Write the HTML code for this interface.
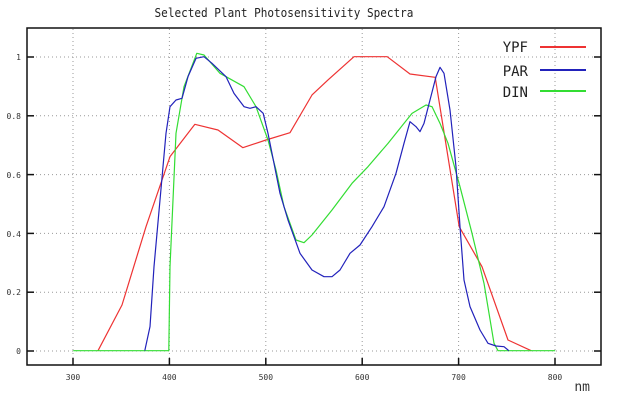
<!DOCTYPE html>
<html><head><style>
body{margin:0;background:#fff;}
svg{display:block;font-family:"DejaVu Sans Mono","Liberation Mono",monospace;}
</style></head><body>
<svg width="620" height="414" viewBox="0 0 620 414" xmlns="http://www.w3.org/2000/svg">
<rect width="620" height="414" fill="#fff"/>
<text x="284" y="17" font-size="12" text-anchor="middle" fill="#222" transform="scale(0.92,1)" style="transform-origin:284px 0">Selected Plant Photosensitivity Spectra</text>
<g stroke="#999" stroke-width="1" stroke-dasharray="1,3">
<line x1="73" y1="29" x2="73" y2="364"/><line x1="169.4" y1="29" x2="169.4" y2="364"/><line x1="265.8" y1="29" x2="265.8" y2="364"/><line x1="362.2" y1="29" x2="362.2" y2="364"/><line x1="458.6" y1="29" x2="458.6" y2="364"/><line x1="555" y1="29" x2="555" y2="364"/>
<line x1="28" y1="57" x2="600" y2="57"/><line x1="28" y1="115.8" x2="600" y2="115.8"/><line x1="28" y1="174.6" x2="600" y2="174.6"/><line x1="28" y1="233.4" x2="600" y2="233.4"/><line x1="28" y1="292.2" x2="600" y2="292.2"/><line x1="28" y1="351" x2="600" y2="351"/>
</g>
<rect x="27" y="28" width="574" height="337" fill="none" stroke="#111" stroke-width="1.5"/>
<g stroke="#111" stroke-width="1.5">
<line x1="73" y1="365" x2="73" y2="358"/><line x1="169.4" y1="365" x2="169.4" y2="358"/><line x1="265.8" y1="365" x2="265.8" y2="358"/><line x1="362.2" y1="365" x2="362.2" y2="358"/><line x1="458.6" y1="365" x2="458.6" y2="358"/><line x1="555" y1="365" x2="555" y2="358"/>
<line x1="27" y1="57" x2="34" y2="57"/><line x1="27" y1="115.8" x2="34" y2="115.8"/><line x1="27" y1="174.6" x2="34" y2="174.6"/><line x1="27" y1="233.4" x2="34" y2="233.4"/><line x1="27" y1="292.2" x2="34" y2="292.2"/><line x1="27" y1="351" x2="34" y2="351"/>
<line x1="601" y1="57" x2="594" y2="57"/><line x1="601" y1="115.8" x2="594" y2="115.8"/><line x1="601" y1="174.6" x2="594" y2="174.6"/><line x1="601" y1="233.4" x2="594" y2="233.4"/><line x1="601" y1="292.2" x2="594" y2="292.2"/><line x1="601" y1="351" x2="594" y2="351"/>
</g>
<g font-size="8" fill="#333" text-anchor="middle">
<text x="73" y="380">300</text><text x="169.4" y="380">400</text><text x="265.8" y="380">500</text><text x="362.2" y="380">600</text><text x="458.6" y="380">700</text><text x="555" y="380">800</text>
</g>
<g font-size="8" fill="#333" text-anchor="end">
<text x="21" y="60">1</text><text x="21" y="119">0.8</text><text x="21" y="178">0.6</text><text x="21" y="237">0.4</text><text x="21" y="295">0.2</text><text x="21" y="354">0</text>
</g>
<text x="590" y="391" font-size="13" fill="#333" text-anchor="end">nm</text>
<g font-size="14" fill="#222" text-anchor="end">
<text x="528" y="52">YPF</text><text x="528" y="76">PAR</text><text x="528" y="97">DIN</text>
</g>
<line x1="540" y1="47" x2="586" y2="47" stroke="#e33" stroke-width="2"/>
<line x1="540" y1="70" x2="586" y2="70" stroke="#22b" stroke-width="2"/>
<line x1="540" y1="91" x2="586" y2="91" stroke="#3d3" stroke-width="2"/>
<g transform="scale(0.4,0.33333)" fill="none" stroke-width="1.2" stroke-linejoin="round">
<polyline vector-effect="non-scaling-stroke" stroke="#e33" points="245,1052 305,915 365,680 425,470 487,373 545,390 607,443 665,420 725,398 780,285 820,240 885,170 968,170 1025,222 1088,232 1148,680 1205,800 1270,1020 1328,1052"/>
<polyline vector-effect="non-scaling-stroke" stroke="#3d3" points="183,1052 422,1052 425,800 440,400 460,260 492,160 510,165 550,220 610,260 640,320 670,420 690,510 710,620 740,720 760,728 780,705 830,630 880,550 920,500 970,430 1000,385 1030,340 1065,315 1080,320 1100,370 1120,430 1150,560 1180,700 1210,850 1235,1030 1245,1052 1388,1052"/>
<polyline vector-effect="non-scaling-stroke" stroke="#22b" points="362,1052 375,980 385,800 400,600 415,400 425,320 440,300 455,295 470,230 490,175 510,170 530,190 565,230 585,280 610,320 625,325 640,320 658,340 670,400 685,490 700,580 720,660 750,760 780,810 810,830 830,830 850,810 875,760 900,735 930,680 960,620 990,520 1010,430 1025,365 1040,380 1050,395 1060,370 1075,300 1090,230 1100,202 1110,220 1125,330 1140,500 1150,680 1160,840 1175,920 1200,990 1220,1030 1240,1038 1260,1040 1272,1052"/>
</g>
</svg>
</body></html>
